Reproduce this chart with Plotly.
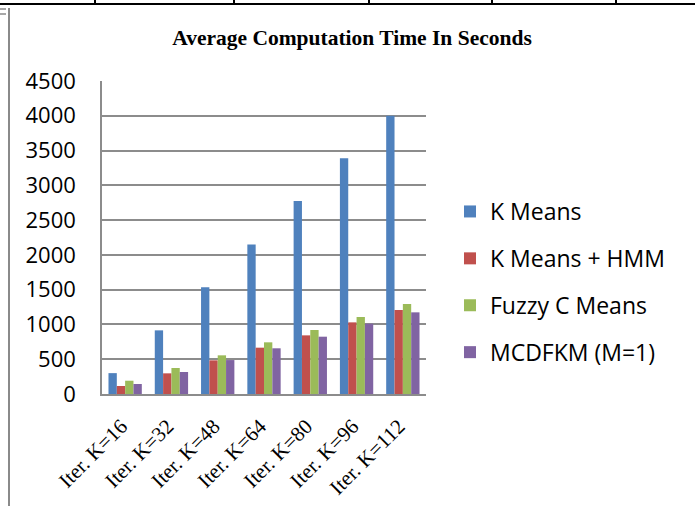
import plotly.graph_objects as go

categories = ["Iter. K=16", "Iter. K=32", "Iter. K=48", "Iter. K=64", "Iter. K=80", "Iter. K=96", "Iter. K=112"]
kmeans = [300, 915, 1535, 2150, 2775, 3390, 4000]
kmeans_hmm = [115, 297, 484, 666, 843, 1030, 1208]
fuzzy_cmeans = [191, 374, 556, 743, 920, 1107, 1294]
mcdfkm = [144, 316, 488, 657, 824, 1011, 1174]

series = [
    ("K Means", kmeans, "#4F81BD"),
    ("K Means + HMM", kmeans_hmm, "#C0504D"),
    ("Fuzzy C Means", fuzzy_cmeans, "#9BBB59"),
    ("MCDFKM (M=1)", mcdfkm, "#8064A2"),
]

fig = go.Figure()
for i, (name, vals, col) in enumerate(series):
    fig.add_trace(go.Bar(x=categories, y=vals, name=name, marker_color=col,
                         marker_line_width=0, legendgroup=str(i)))

L, R, T, B = 102, 269, 81, 112
W, H = 695, 506
pw, ph = W - L - R, H - T - B

def px(x):
    return (x - L) / pw

def py(y):
    return (H - B - y) / ph

shapes = [
    dict(type="line", xref="paper", yref="paper", x0=px(0), x1=px(695), y0=py(4), y1=py(4),
         line=dict(color="black", width=2)),
    dict(type="line", xref="paper", yref="paper", x0=px(9), x1=px(9), y0=py(8), y1=py(506),
         line=dict(color="#8a8a8a", width=2)),
    dict(type="line", xref="paper", yref="paper", x0=px(0), x1=px(6), y0=py(9), y1=py(9),
         line=dict(color="#8a8a8a", width=1.5)),
    dict(type="line", xref="paper", yref="paper", x0=px(0), x1=px(6), y0=py(14), y1=py(14),
         line=dict(color="#8a8a8a", width=1.5)),
]
for xv in [95, 234, 369, 492, 616]:
    shapes.append(dict(type="line", xref="paper", yref="paper", x0=px(xv), x1=px(xv),
                       y0=py(0), y1=py(4), line=dict(color="black", width=2)))

fig.update_layout(
    width=W, height=H,
    margin=dict(l=L, r=R, t=T, b=B),
    paper_bgcolor="white", plot_bgcolor="white",
    barmode="group", bargap=0.28, bargroupgap=0,
    title=dict(text="<b>Average Computation Time In Seconds</b>", xref="container", x=352 / W,
               xanchor="center", yref="container", y=1 - 37 / H, yanchor="middle",
               font=dict(family="Liberation Serif", size=21.5, color="black")),
    yaxis=dict(range=[0, 4500], dtick=500, showgrid=True, gridcolor="#8c8c8c", gridwidth=1.5,
               showline=True, linecolor="#8c8c8c", linewidth=1.5, zeroline=False,
               tickfont=dict(family="Open Sans", size=22, color="black"), ticklabelstandoff=20,
               automargin=False),
    xaxis=dict(showline=True, linecolor="#8c8c8c", linewidth=1.5, tickangle=-45,
               tickfont=dict(family="Liberation Serif", size=21, color="black"),
               ticklabelstandoff=10, ticklabelshift=-4, automargin=False),
    legend=dict(x=px(450), y=py(282), xanchor="left", yanchor="middle",
                font=dict(family="Open Sans", size=23, color="black"),
                traceorder="grouped", tracegroupgap=14),
    shapes=shapes,
    showlegend=True,
)

fig.write_html("out.html", config={"displayModeBar": False},
               post_script="document.body.style.margin='0';")
